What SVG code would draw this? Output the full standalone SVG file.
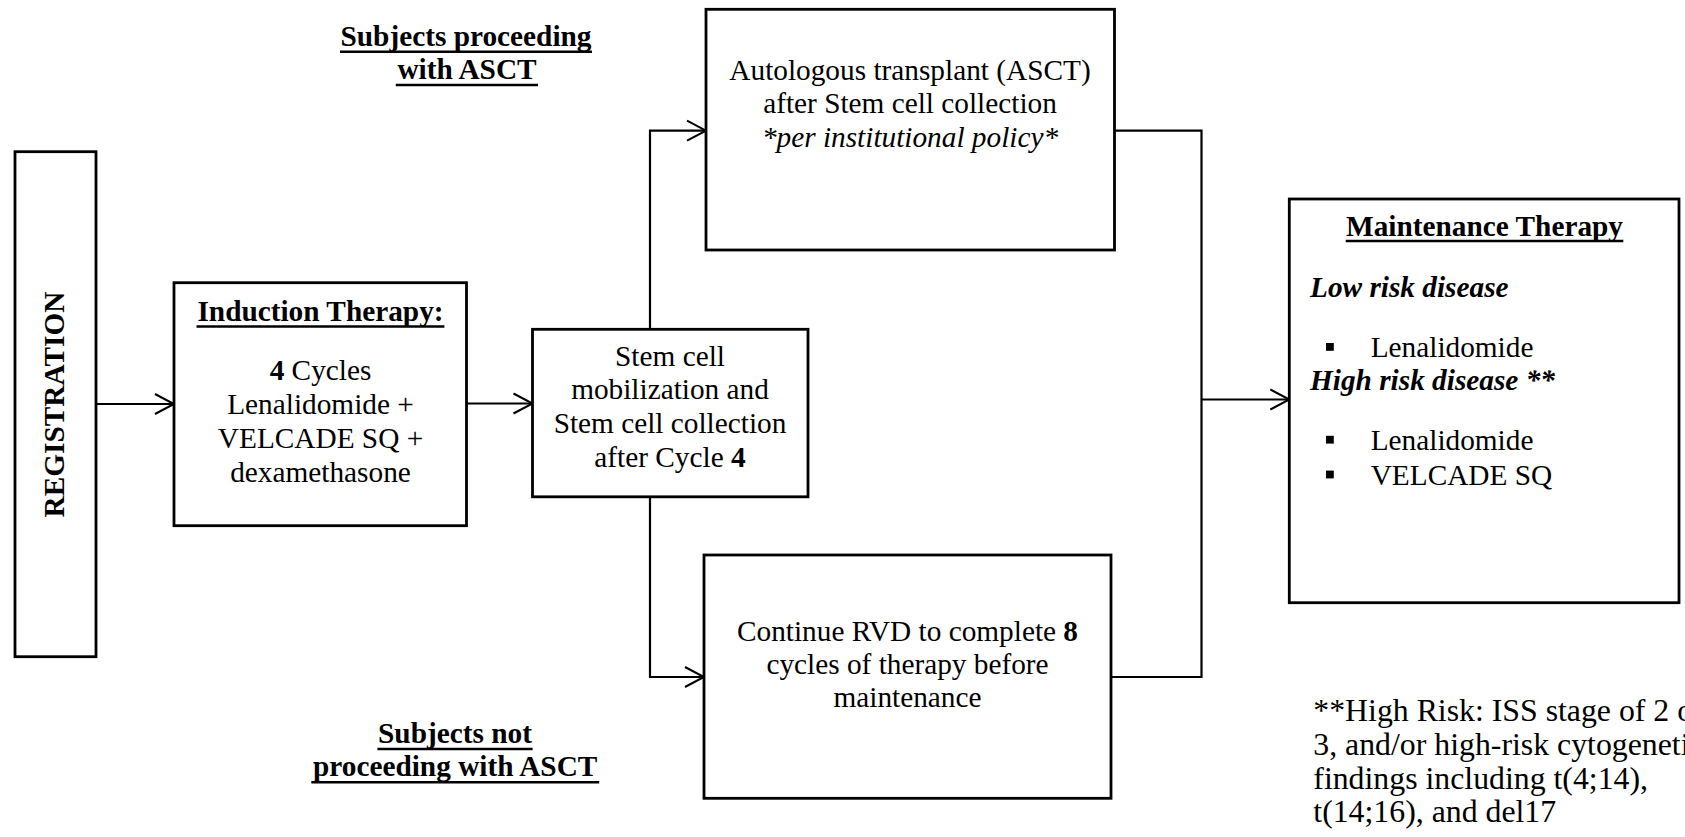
<svg xmlns="http://www.w3.org/2000/svg" width="1685" height="837" viewBox="0 0 1685 837">
<style>
.box{fill:#fff;stroke:#000;stroke-width:2.8}
.t{font-family:"Liberation Serif","Times New Roman",serif;font-size:29.3px;fill:#000}
.c{text-anchor:middle}
.b{font-weight:bold}
.i{font-style:italic}
.ul{stroke:#000;stroke-width:2.6}
.conn{fill:none;stroke:#000;stroke-width:2.2}
.fn{font-size:31.8px}
</style>
<defs>
<marker id="arr" markerUnits="userSpaceOnUse" markerWidth="24" markerHeight="24" viewBox="0 0 24 24" refX="21" refY="12" orient="auto">
<path d="M2,2 L21,12 L2,22" fill="none" stroke="#000" stroke-width="2"/>
</marker>
</defs>
<rect width="1685" height="837" fill="#fff"/>

<g id="connectors">
<path class="conn" d="M96,404 H174" marker-end="url(#arr)"/>
<path class="conn" d="M466.5,403.5 H532.5" marker-end="url(#arr)"/>
<path class="conn" d="M650,329.5 V130.7 H706" marker-end="url(#arr)"/>
<path class="conn" d="M650,497 V677 H704" marker-end="url(#arr)"/>
<path class="conn" d="M1114.5,130.7 H1201.5 V677 H1111"/>
<path class="conn" d="M1201.5,399.5 H1289.3" marker-end="url(#arr)"/>
</g>

<g id="label-asct">
<text class="t b c" x="466" y="46">Subjects proceeding</text>
<line class="ul" x1="340" y1="51.7" x2="592" y2="51.7"/>
<text class="t b c" x="467" y="79.3">with ASCT</text>
<line class="ul" x1="395.8" y1="85" x2="538" y2="85"/>
</g>

<g id="label-no-asct">
<text class="t b c" x="455" y="743.3">Subjects not</text>
<line class="ul" x1="377.4" y1="749" x2="532.6" y2="749"/>
<text class="t b c" x="455.2" y="776">proceeding with ASCT</text>
<line class="ul" x1="311.3" y1="782.3" x2="599.2" y2="782.3"/>
</g>

<g id="registration">
<rect class="box" x="15" y="151.7" width="81" height="505"/>
<text class="t b c" transform="translate(64.3,404.5) rotate(-90)">REGISTRATION</text>
</g>

<g id="induction">
<rect class="box" x="174" y="282.7" width="292.5" height="243"/>
<text class="t b c" x="320.5" y="321">Induction Therapy:</text>
<line class="ul" x1="196.5" y1="326.5" x2="444.4" y2="326.5"/>
<text class="t c" x="320.5" y="380"><tspan class="b">4</tspan> Cycles</text>
<text class="t c" x="320.5" y="414.3">Lenalidomide +</text>
<text class="t c" x="320.5" y="448.3">VELCADE SQ +</text>
<text class="t c" x="320.5" y="481.7">dexamethasone</text>
</g>

<g id="stemcell">
<rect class="box" x="532.5" y="329.3" width="275.5" height="167.5"/>
<text class="t c" x="670" y="365.7">Stem cell</text>
<text class="t c" x="670" y="399.3">mobilization and</text>
<text class="t c" x="670" y="433.3">Stem cell collection</text>
<text class="t c" x="670" y="466.7">after Cycle <tspan class="b">4</tspan></text>
</g>

<g id="asct">
<rect class="box" x="706" y="9.3" width="408.5" height="240.7"/>
<text class="t c" x="910" y="80">Autologous transplant (ASCT)</text>
<text class="t c" x="910" y="113.3">after Stem cell collection</text>
<text class="t c i" x="910" y="146.7">*per institutional policy*</text>
</g>

<g id="continue">
<rect class="box" x="704" y="555" width="407" height="243.3"/>
<text class="t c" x="907.5" y="640.7">Continue RVD to complete <tspan class="b">8</tspan></text>
<text class="t c" x="907.5" y="674">cycles of therapy before</text>
<text class="t c" x="907.5" y="707.3">maintenance</text>
</g>

<g id="maintenance">
<rect class="box" x="1289.3" y="199" width="389.7" height="403.7"/>
<text class="t b c" x="1484.5" y="236">Maintenance Therapy</text>
<line class="ul" x1="1345.7" y1="241" x2="1623.3" y2="241"/>
<text class="t b i" x="1310" y="296.7">Low risk disease</text>
<rect x="1326" y="343" width="7.8" height="7.8" fill="#000"/>
<text class="t" x="1370.7" y="356.5">Lenalidomide</text>
<text class="t b i" x="1310" y="390">High risk disease **</text>
<rect x="1326" y="435.8" width="7.8" height="7.8" fill="#000"/>
<text class="t" x="1370.7" y="450">Lenalidomide</text>
<rect x="1326" y="470.6" width="7.8" height="7.8" fill="#000"/>
<text class="t" x="1370.7" y="485">VELCADE SQ</text>
</g>

<g id="footnote">
<text class="t fn" x="1313.3" y="720.5">**High Risk: ISS stage of 2 or</text>
<text class="t fn" x="1313.3" y="755">3, and/or high-risk cytogenetic</text>
<text class="t fn" x="1313.3" y="788.5">findings including t(4;14),</text>
<text class="t fn" x="1313.3" y="822">t(14;16), and del17</text>
</g>
</svg>
